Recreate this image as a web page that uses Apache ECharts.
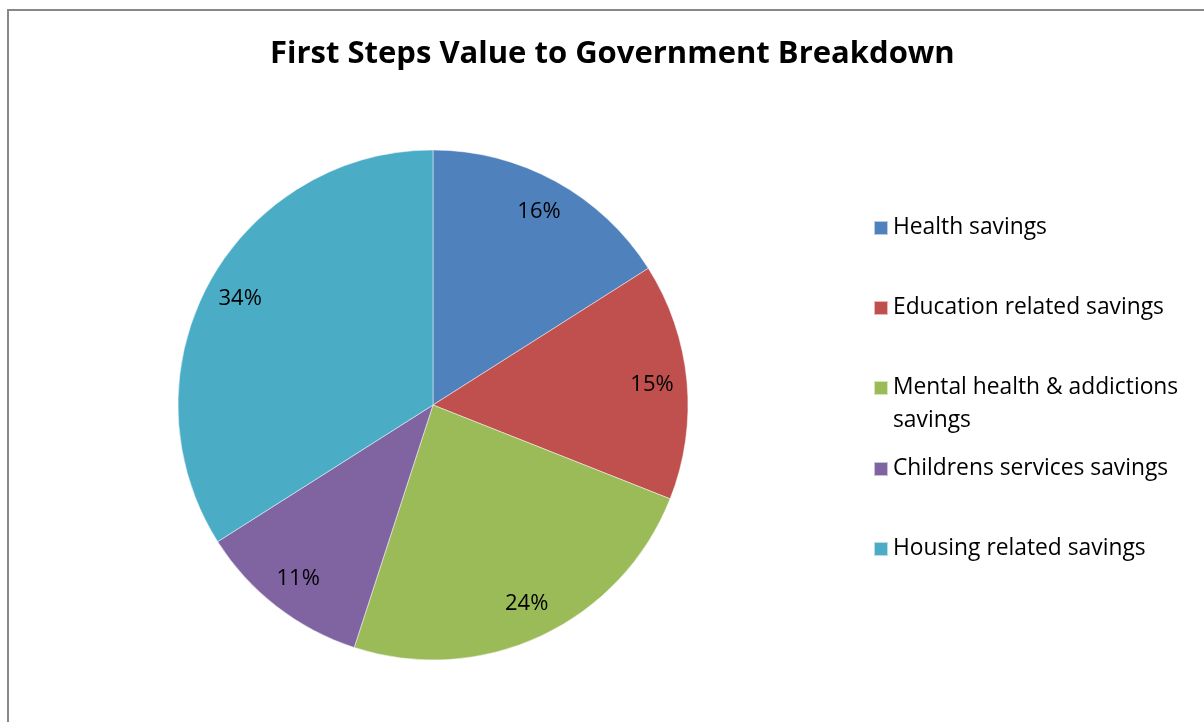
<!DOCTYPE html>
<html><head><meta charset="utf-8">
<script src="https://cdn.jsdelivr.net/npm/echarts@6/dist/echarts.min.js"></script>
<style>html,body{margin:0;padding:0;background:#fff}#c{width:1204px;height:722px}</style>
</head><body><div id="c"></div>
<script>
const titleText = 'First Steps Value to Government Breakdown';
const categories = ['Health savings','Education related savings','Mental health & addictions savings','Childrens services savings','Housing related savings'];
const values = [16, 15, 24, 11, 34];
const colors = ['#4F81BD','#C0504D','#9BBB59','#8064A2','#4BACC6'];
const legendCenters = [228, 308, 388, 469, 549];

const FONT = 'Open Sans';
const L = 33;
const chart = echarts.init(document.getElementById('c'));
const legends = categories.map((name, i) => {
  const twoLine = name.indexOf('Mental') === 0;
  return {
    orient: 'vertical', left: 873,
    top: twoLine ? legendCenters[i] - 1.5 * L : legendCenters[i] - L / 2,
    padding: 0, itemWidth: 14, itemHeight: 14, icon: 'rect', itemGap: 0,
    data: [name],
    formatter: n => n === 'Mental health & addictions savings' ? ' \nMental health & addictions\nsavings' : n,
    textStyle: { fontFamily: FONT, fontSize: 22.8, color: '#000', lineHeight: L }
  };
});
chart.setOption({
  animation: false,
  title: { text: titleText, left: 270, top: 39, padding: 0,
    textStyle: { fontFamily: FONT, fontWeight: 'bold', fontSize: 31, color: '#000' } },
  graphic: [{ type: 'rect', shape: { x: 8, y: 10, width: 1400, height: 900 },
    style: { fill: 'none', stroke: '#888', lineWidth: 2 }, silent: true }],
  legend: legends,
  series: [
    { type: 'pie', center: [433, 405], radius: [0, 255], startAngle: 90, clockwise: true,
      label: { show: false }, labelLine: { show: false },
      itemStyle: { borderColor: 'rgba(255,255,255,0.6)', borderWidth: 0.8 },
      data: categories.map((n, i) => ({ name: n, value: values[i], itemStyle: { color: colors[i] } })) },
    { type: 'pie', center: [433, 405], radius: [179, 255], startAngle: 90, clockwise: true, silent: true,
      legendHoverLink: false,
      itemStyle: { color: 'rgba(0,0,0,0)' },
      label: { show: true, position: 'inside', formatter: '{c}%', fontFamily: FONT, fontSize: 22, color: '#000', padding: [8, 0, 0, 0] },
      labelLine: { show: false },
      data: categories.map((n, i) => ({ name: n, value: values[i] })) }
  ]
});
</script></body></html>
